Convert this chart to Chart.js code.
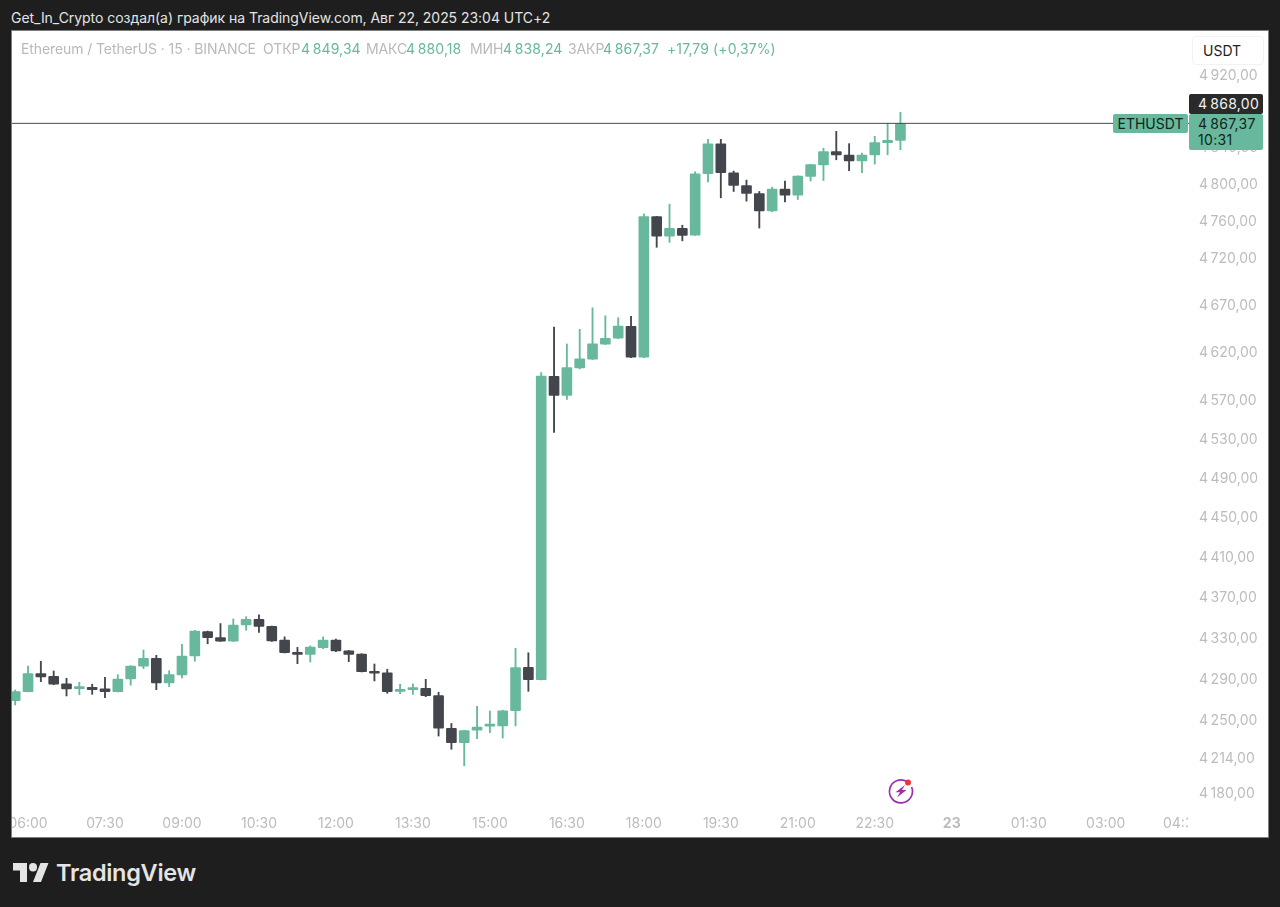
<!DOCTYPE html>
<html>
<head>
<meta charset="utf-8">
<title>ETHUSDT</title>
<script src="https://cdn.jsdelivr.net/npm/chart.js@4/dist/chart.umd.min.js"></script>
<style>
  html, body { margin: 0; padding: 0; background: #1e1e1e; }
  body { width: 1280px; height: 907px; position: relative; overflow: hidden; font-family: Inter, sans-serif; font-size: 14px; }
  .abs { position: absolute; white-space: nowrap; line-height: 18px; }
  #panel { position: absolute; left: 12px; top: 31px; width: 1256px; height: 806px; background: #fff; box-shadow: 0 0 0 1px #7d7d7d; }
  #chart { display: block; }
  .gray { color: #b9b9b9; letter-spacing: -0.1px; }
  .green { color: #68b89e; letter-spacing: 0.1px; }
  .box { position: absolute; border-radius: 2px; white-space: nowrap; }
</style>
</head>
<body>
<div class="abs" style="left:11px;top:9px;color:#e4e4e4;font-size:14px;letter-spacing:-0.04px;">Get_In_Crypto создал(а) график на TradingView.com, Авг 22, 2025 23:04 UTC+2</div>

<div id="panel"><canvas id="chart" width="1256" height="806"></canvas></div>

<div class="abs gray" style="left:21px;top:40px;">Ethereum / TetherUS · 15 · BINANCE</div>
<div class="abs gray" style="left:263px;top:40px;">ОТКР</div>
<div class="abs green" style="left:301px;top:40px;">4&thinsp;849,34</div>
<div class="abs gray" style="left:366px;top:40px;">МАКС</div>
<div class="abs green" style="left:406px;top:40px;">4&thinsp;880,18</div>
<div class="abs gray" style="left:470px;top:40px;">МИН</div>
<div class="abs green" style="left:503px;top:40px;">4&thinsp;838,24</div>
<div class="abs gray" style="left:568px;top:40px;">ЗАКР</div>
<div class="abs green" style="left:603px;top:40px;">4&thinsp;867,37</div>
<div class="abs green" style="left:667px;top:40px;">+17,79 (+0,37%)</div>

<div class="box" style="left:1192px;top:36px;width:72px;height:29px;border:1px solid #f2f2f2;box-sizing:border-box;border-radius:4px;background:#fff;color:#222;line-height:27px;padding-left:10px;">USDT</div>
<div class="box" style="left:1113px;top:114px;width:75px;height:19px;background:#68b89e;color:#10241d;line-height:19px;text-align:center;">ETHUSDT</div>
<div class="box" style="left:1189px;top:94px;width:74px;height:20px;background:#2a2a2a;color:#f2f2f2;line-height:20px;padding-left:9px;box-sizing:border-box;letter-spacing:0.3px;">4&thinsp;868,00</div>
<div class="box" style="left:1189px;top:114px;width:74px;height:36px;background:#68b89e;color:#10241d;line-height:16px;padding:2px 0 0 9px;box-sizing:border-box;letter-spacing:0.3px;">4&thinsp;867,37<br>10:31</div>

<svg class="abs" style="left:887px;top:777px;" width="28" height="28" viewBox="0 0 28 28">
  <path d="M20 4.6 A11.5 11.5 0 1 0 24.6 10" fill="none" stroke="#9c2fae" stroke-width="1.7"/>
  <path d="M18 8 L8.5 15.2 H13 L10 20.5 L19.5 13 H15 Z" fill="#9c2fae"/>
  <circle cx="21" cy="5.5" r="3" fill="#ef3340"/>
</svg>

<svg class="abs" style="left:13px;top:863px;" width="36" height="19" viewBox="0 4 36 18" preserveAspectRatio="none">
  <path d="M14 22H7V11H0V4h14v18zM28 22h-8l7.5-18h8L28 22z" fill="#e4e4e4"/>
  <circle cx="20" cy="8" r="4" fill="#e4e4e4"/>
</svg>
<div class="abs" style="left:56px;top:858px;color:#e4e4e4;font-family:Inter,sans-serif;font-weight:600;font-size:23.5px;line-height:30px;letter-spacing:-0.3px;">TradingView</div>

<script>
const times = ["05:45","06:00","06:15","06:30","06:45","07:00","07:15","07:30","07:45","08:00",
  "08:15","08:30","08:45","09:00","09:15","09:30","09:45","10:00","10:15","10:30",
  "10:45","11:00","11:15","11:30","11:45","12:00","12:15","12:30","12:45","13:00",
  "13:15","13:30","13:45","14:00","14:15","14:30","14:45","15:00","15:15","15:30",
  "15:45","16:00","16:15","16:30","16:45","17:00","17:15","17:30","17:45","18:00",
  "18:15","18:30","18:45","19:00","19:15","19:30","19:45","20:00","20:15","20:30",
  "20:45","21:00","21:15","21:30","21:45","22:00","22:15","22:30","22:45","23:00"];

const opens = [4268.5,4277.3,4294.8,4292.3,4284.8,4280.2,4281.5,4279.9,4277.3,4289.6,
  4302.0,4309.8,4285.7,4293.5,4312.0,4336.1,4330.2,4326.6,4342.5,4348.1,
  4341.2,4327.6,4315.6,4313.7,4320.1,4327.6,4317.2,4314.0,4297.1,4295.5,
  4277.6,4279.2,4280.6,4273.4,4241.9,4228.0,4240.0,4243.9,4244.1,4258.8,
  4301.0,4288.9,4594.7,4574.8,4603.4,4612.5,4628.3,4634.6,4647.2,4614.6,
  4764.4,4743.3,4751.7,4744.4,4810.9,4843.6,4812.0,4798.1,4789.4,4770.6,
  4794.2,4787.7,4808.0,4820.7,4835.2,4831.3,4825.1,4831.6,4845.0,4847.6];
const highs = [4278.9,4302.3,4306.9,4297.4,4290.3,4286.4,4284.5,4291.3,4293.8,4302.6,
  4317.9,4312.7,4297.7,4323.4,4337.1,4336.5,4343.9,4348.4,4350.7,4352.6,
  4341.5,4330.8,4320.5,4322.0,4330.8,4328.6,4317.5,4314.3,4304.2,4299.1,
  4284.5,4284.8,4289.3,4276.7,4246.5,4240.0,4263.0,4258.5,4259.4,4319.5,
  4315.2,4598.5,4646.4,4628.6,4644.0,4666.7,4658.3,4656.2,4657.6,4767.3,
  4764.7,4777.9,4755.0,4813.1,4848.7,4848.7,4813.8,4804.0,4791.6,4796.4,
  4802.9,4808.7,4821.3,4838.9,4857.4,4843.9,4833.7,4852.0,4866.5,4878.6];
const lows = [4264.3,4277.0,4287.0,4284.0,4273.1,4274.3,4274.7,4271.4,4277.0,4283.5,
  4299.7,4279.2,4282.1,4290.6,4306.9,4324.0,4326.3,4326.3,4337.4,4335.1,
  4326.3,4315.0,4304.5,4306.2,4319.1,4316.2,4306.5,4296.4,4287.7,4275.7,
  4275.3,4274.7,4272.4,4234.4,4221.7,4205.9,4231.9,4237.7,4232.5,4244.1,
  4277.6,4288.6,4536.6,4570.6,4602.4,4612.2,4628.0,4634.3,4614.3,4614.3,
  4731.3,4736.5,4738.2,4744.0,4801.9,4784.7,4791.6,4781.1,4752.0,4769.5,
  4780.4,4782.9,4803.0,4803.6,4826.2,4814.2,4812.0,4821.5,4831.6,4837.2];
const closes = [4277.3,4294.8,4291.6,4284.5,4279.9,4281.3,4279.2,4277.3,4289.6,4302.3,
  4309.8,4285.7,4293.8,4312.0,4336.4,4329.9,4326.6,4342.5,4348.1,4341.0,
  4326.9,4315.2,4313.7,4320.8,4327.6,4316.9,4313.7,4296.7,4295.2,4277.3,
  4279.2,4280.6,4273.4,4241.9,4228.0,4239.7,4242.9,4244.8,4258.8,4300.6,
  4288.9,4595.0,4574.8,4603.7,4612.9,4628.6,4634.6,4647.5,4614.6,4764.4,
  4743.3,4751.7,4744.1,4810.9,4843.6,4812.0,4798.1,4789.4,4770.6,4794.2,
  4787.7,4808.4,4821.0,4835.2,4831.6,4825.1,4831.3,4845.0,4847.6,4866.3];

// where the line sits in the picture, the header reads 4 867,37
const lastPrice = 4866.3;

const priceTicks = [4920,4880,4840,4800,4760,4720,4670,4620,4570,4530,4490,4450,4410,4370,4330,4290,4250,4214,4180];
const timeTickIndex = [1,7,13,19,25,31,37,43,49,55,61,67,73,79,85,91];
const timeTickLabels = ["06:00","07:30","09:00","10:30","12:00","13:30","15:00","16:30","18:00","19:30","21:00","22:30","23","01:30","03:00","04:30"];

const UP = "#68b89e";
const DOWN = "#43464c";
const LABEL = "#bcbcbc";

const candleColors = closes.map((c, i) => (c >= opens[i] ? UP : DOWN));

function formatPrice(v) {
  return v.toFixed(2).replace(".", ",").replace(/^(\d)(\d{3})/, "$1\u2009$2");
}

// the panel's bottom right corner stays blank, the last time label gets cut there
const cornerMask = {
  id: "cornerMask",
  afterDraw(chart) {
    const { ctx, chartArea } = chart;
    ctx.save();
    ctx.fillStyle = "#fff";
    ctx.fillRect(1176, chartArea.bottom, chart.width - 1176, chart.height - chartArea.bottom);
    ctx.restore();
  },
};

new Chart(document.getElementById("chart").getContext("2d"), {
  data: {
    datasets: [
      {
        type: "bar",
        label: "body",
        data: times.map((t, i) => ({ x: i, y: [opens[i], closes[i]] })),
        backgroundColor: candleColors,
        barThickness: 10,
        minBarLength: 2,
        grouped: false,
        borderRadius: 1,
        borderSkipped: false,
        order: 1,
      },
      {
        type: "bar",
        label: "wick",
        data: times.map((t, i) => ({ x: i, y: [lows[i], highs[i]] })),
        backgroundColor: candleColors,
        barThickness: 1.2,
        grouped: false,
        order: 2,
      },
      {
        type: "line",
        label: "last",
        data: [{ x: -1, y: lastPrice }, { x: 92, y: lastPrice }],
        borderColor: "#3d4f49",
        borderWidth: 1,
        pointRadius: 0,
        order: 0,
      },
    ],
  },
  options: {
    responsive: false,
    animation: false,
    layout: { padding: 0 },
    plugins: { legend: { display: false }, tooltip: { enabled: false } },
    scales: {
      x: {
        type: "linear",
        offset: false,
        min: -0.249,
        max: 91.57,
        grid: { display: false, drawTicks: false },
        border: { display: false },
        afterBuildTicks(scale) {
          scale.ticks = timeTickIndex.map((v) => ({ value: v }));
        },
        afterFit(scale) {
          scale.height = 25;
          scale.paddingLeft = 0;
          scale.paddingRight = 0;
        },
        ticks: {
          autoSkip: false,
          maxRotation: 0,
          padding: 3,
          color: LABEL,
          font: (ctx) => ({
            family: "Inter",
            size: 14,
            weight: ctx.tick && ctx.tick.value === 73 ? "bold" : "normal",
          }),
          callback: (value, index) => timeTickLabels[index],
        },
      },
      y: {
        type: "logarithmic",
        position: "right",
        min: 4162,
        max: 4969.4,
        grid: { display: false, drawTicks: false },
        border: { display: false },
        afterBuildTicks(scale) {
          scale.ticks = priceTicks.map((v) => ({ value: v }));
        },
        afterFit(scale) {
          scale.width = 78;
          scale.paddingTop = 0;
          scale.paddingBottom = 0;
        },
        ticks: {
          autoSkip: false,
          padding: 9,
          labelOffset: 1,
          color: LABEL,
          font: { family: "Inter", size: 14 },
          callback: (value) => formatPrice(value),
        },
      },
    },
  },
  plugins: [cornerMask],
});
</script>
</body>
</html>
